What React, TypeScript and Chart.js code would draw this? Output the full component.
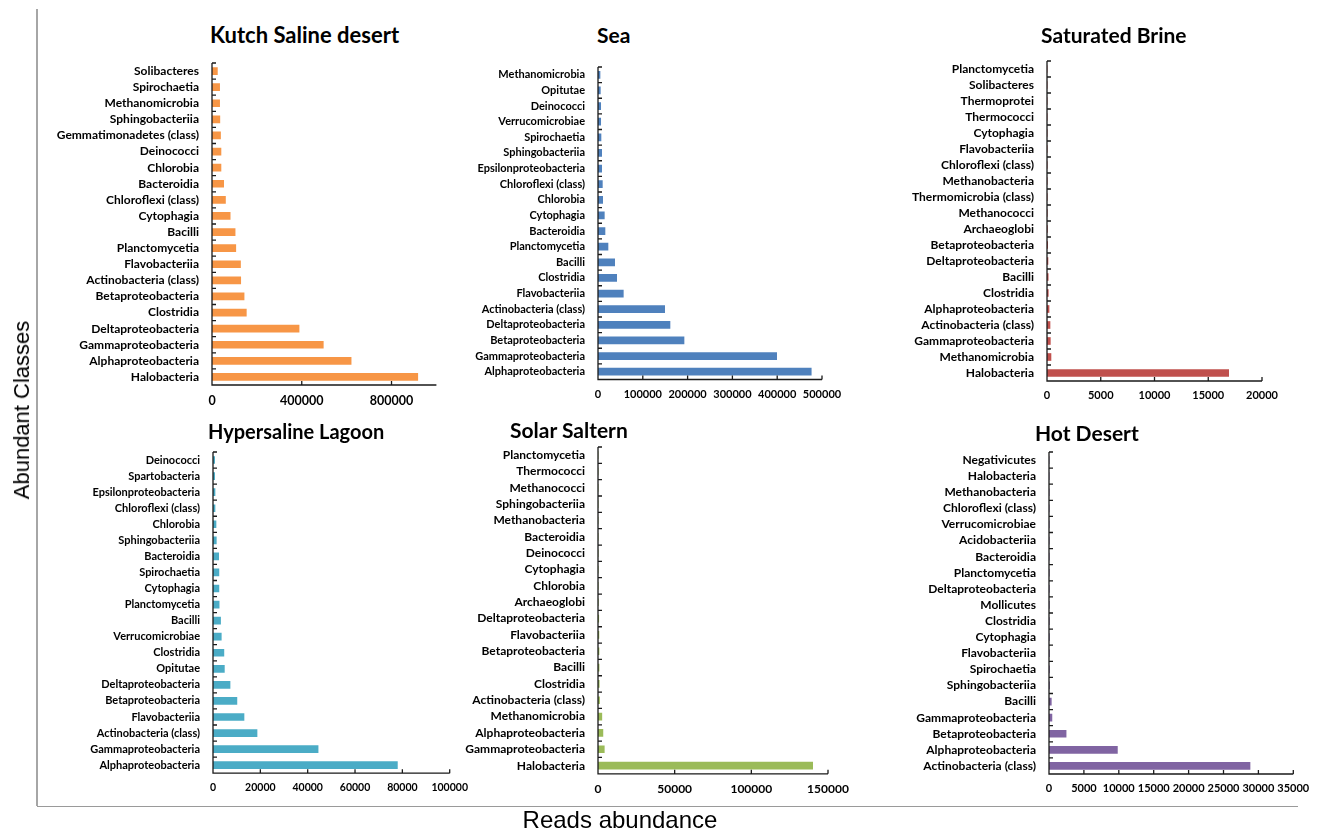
import React, { useEffect, useRef } from "react";
import { Chart, registerables } from "chart.js";

Chart.register(...registerables);

// ---- Kutch Saline desert ----
const kutchClasses = [
  "Solibacteres", "Spirochaetia", "Methanomicrobia", "Sphingobacteriia",
  "Gemmatimonadetes (class)", "Deinococci", "Chlorobia", "Bacteroidia",
  "Chloroflexi (class)", "Cytophagia", "Bacilli", "Planctomycetia",
  "Flavobacteriia", "Actinobacteria (class)", "Betaproteobacteria", "Clostridia",
  "Deltaproteobacteria", "Gammaproteobacteria", "Alphaproteobacteria", "Halobacteria",
];
const kutchReads = [
  24000, 34000, 34000, 35000, 38000, 40000, 40000, 52000, 60000, 81000,
  103000, 106000, 127000, 128000, 143000, 153000, 388000, 496000, 620000, 917000,
];
const kutchTicks = [0, 400000, 800000];
const kutchMax = 1000000;

// ---- Sea ----
const seaClasses = [
  "Methanomicrobia", "Opitutae", "Deinococci", "Verrucomicrobiae", "Spirochaetia",
  "Sphingobacteriia", "Epsilonproteobacteria", "Chloroflexi (class)", "Chlorobia",
  "Cytophagia", "Bacteroidia", "Planctomycetia", "Bacilli", "Clostridia",
  "Flavobacteriia", "Actinobacteria (class)", "Deltaproteobacteria",
  "Betaproteobacteria", "Gammaproteobacteria", "Alphaproteobacteria",
];
const seaReads = [
  4500, 5200, 6000, 6000, 6700, 8200, 8200, 9700, 10400, 14100,
  15600, 22300, 37200, 41700, 56500, 148800, 160700, 192000, 398800, 476000,
];
const seaTicks = [0, 100000, 200000, 300000, 400000, 500000];
const seaMax = 500000;

// ---- Saturated Brine ----
const brineClasses = [
  "Planctomycetia", "Solibacteres", "Thermoprotei", "Thermococci", "Cytophagia",
  "Flavobacteriia", "Chloroflexi (class)", "Methanobacteria", "Thermomicrobia (class)",
  "Methanococci", "Archaeoglobi", "Betaproteobacteria", "Deltaproteobacteria",
  "Bacilli", "Clostridia", "Alphaproteobacteria", "Actinobacteria (class)",
  "Gammaproteobacteria", "Methanomicrobia", "Halobacteria",
];
const brineReads = [
  5, 6, 7, 8, 9, 10, 12, 14, 16, 20,
  35, 60, 90, 110, 120, 190, 280, 310, 370, 16900,
];
const brineTicks = [0, 5000, 10000, 15000, 20000];
const brineMax = 20000;

// ---- Hypersaline Lagoon ----
const lagoonClasses = [
  "Deinococci", "Spartobacteria", "Epsilonproteobacteria", "Chloroflexi (class)",
  "Chlorobia", "Sphingobacteriia", "Bacteroidia", "Spirochaetia", "Cytophagia",
  "Planctomycetia", "Bacilli", "Verrucomicrobiae", "Clostridia", "Opitutae",
  "Deltaproteobacteria", "Betaproteobacteria", "Flavobacteriia",
  "Actinobacteria (class)", "Gammaproteobacteria", "Alphaproteobacteria",
];
const lagoonReads = [
  700, 700, 850, 850, 1270, 1400, 2400, 2500, 2500, 2600,
  3200, 3500, 4600, 4800, 7200, 10100, 13100, 18600, 44400, 77900,
];
const lagoonTicks = [0, 20000, 40000, 60000, 80000, 100000];
const lagoonMax = 100000;

// ---- Solar Saltern ----
const salternClasses = [
  "Planctomycetia", "Thermococci", "Methanococci", "Sphingobacteriia",
  "Methanobacteria", "Bacteroidia", "Deinococci", "Cytophagia", "Chlorobia",
  "Archaeoglobi", "Deltaproteobacteria", "Flavobacteriia", "Betaproteobacteria",
  "Bacilli", "Clostridia", "Actinobacteria (class)", "Methanomicrobia",
  "Alphaproteobacteria", "Gammaproteobacteria", "Halobacteria",
];
const salternReads = [
  20, 25, 30, 35, 40, 50, 60, 70, 90, 150,
  500, 600, 650, 700, 800, 1000, 2500, 3200, 4100, 140000,
];
const salternTicks = [0, 50000, 100000, 150000];
const salternMax = 150000;

// ---- Hot Desert ----
const desertClasses = [
  "Negativicutes", "Halobacteria", "Methanobacteria", "Chloroflexi (class)",
  "Verrucomicrobiae", "Acidobacteriia", "Bacteroidia", "Planctomycetia",
  "Deltaproteobacteria", "Mollicutes", "Clostridia", "Cytophagia", "Flavobacteriia",
  "Spirochaetia", "Sphingobacteriia", "Bacilli", "Gammaproteobacteria",
  "Betaproteobacteria", "Alphaproteobacteria", "Actinobacteria (class)",
];
const desertReads = [
  10, 12, 14, 16, 18, 20, 24, 28, 32, 36,
  40, 45, 50, 55, 60, 330, 420, 2450, 9800, 28800,
];
const desertTicks = [0, 5000, 10000, 15000, 20000, 25000, 30000, 35000];
const desertMax = 35000;

const FONT = "Lato, 'Open Sans', sans-serif";
const LABEL_W = 190;
const PAD_TOP = 10;
const X_AXIS_H = 34;

type PanelSpec = {
  title: string;
  classes: string[];
  reads: number[];
  ticks: number[];
  max: number;
  color: string;
  axisX: number;
  axisEnd: number;
  top: number;
  bottom: number;
  labelSize: number;
  tickSize: number;
  titleX: number;
  titleY: number;
  titleSize: number;
};

const panels: PanelSpec[] = [
  {
    title: "Kutch Saline desert", classes: kutchClasses, reads: kutchReads,
    ticks: kutchTicks, max: kutchMax, color: "#F79646",
    axisX: 212.3, axisEnd: 436.7, top: 63, bottom: 385,
    labelSize: 12, tickSize: 12.5, titleX: 210, titleY: 36, titleSize: 22,
  },
  {
    title: "Sea", classes: seaClasses, reads: seaReads,
    ticks: seaTicks, max: seaMax, color: "#4F81BD",
    axisX: 597.7, axisEnd: 821.7, top: 67, bottom: 379.5,
    labelSize: 11, tickSize: 11, titleX: 597, titleY: 36, titleSize: 21,
  },
  {
    title: "Saturated Brine", classes: brineClasses, reads: brineReads,
    ticks: brineTicks, max: brineMax, color: "#C0504D",
    axisX: 1046.7, axisEnd: 1261.7, top: 61, bottom: 381,
    labelSize: 12, tickSize: 11, titleX: 1041, titleY: 36, titleSize: 21,
  },
  {
    title: "Hypersaline Lagoon", classes: lagoonClasses, reads: lagoonReads,
    ticks: lagoonTicks, max: lagoonMax, color: "#4BACC6",
    axisX: 213.3, axisEnd: 450, top: 452.3, bottom: 773.5,
    labelSize: 11, tickSize: 10.5, titleX: 208, titleY: 432, titleSize: 20,
  },
  {
    title: "Solar Saltern", classes: salternClasses, reads: salternReads,
    ticks: salternTicks, max: salternMax, color: "#9BBB59",
    axisX: 597.7, axisEnd: 827.7, top: 446.7, bottom: 773.5,
    labelSize: 12, tickSize: 12, titleX: 510, titleY: 431, titleSize: 21,
  },
  {
    title: "Hot Desert", classes: desertClasses, reads: desertReads,
    ticks: desertTicks, max: desertMax, color: "#8064A2",
    axisX: 1049, axisEnd: 1293.3, top: 452.3, bottom: 774.3,
    labelSize: 12, tickSize: 11, titleX: 1035, titleY: 434, titleSize: 21,
  },
];

// Axis lines with inward tick marks, drawn from the chart's own scales.
const axisFrame = {
  id: "axisFrame",
  afterDatasetsDraw(chart: any) {
    const { ctx } = chart;
    const x = chart.scales.x;
    const y = chart.scales.y;
    const n = chart.data.labels.length;
    const band = y.getPixelForValue(1) - y.getPixelForValue(0);
    ctx.save();
    ctx.strokeStyle = "#1a1a1a";
    ctx.lineWidth = 1.3;
    ctx.beginPath();
    ctx.moveTo(x.left, y.top);
    ctx.lineTo(x.left, y.bottom);
    ctx.lineTo(x.right, y.bottom);
    for (let i = 0; i <= n; i++) {
      const py = y.getPixelForValue(i) - band / 2;
      ctx.moveTo(x.left, py);
      ctx.lineTo(x.left + 4, py);
    }
    x.ticks.forEach((t: any) => {
      const px = x.getPixelForValue(t.value);
      ctx.moveTo(px, y.bottom);
      ctx.lineTo(px, y.bottom - 4);
    });
    ctx.stroke();
    ctx.restore();
  },
};

function BarPanel({ spec }: { spec: PanelSpec }) {
  const ref = useRef<HTMLCanvasElement | null>(null);
  const span = spec.axisEnd - spec.axisX;
  const left = spec.axisX - LABEL_W;
  const canvasTop = spec.top - PAD_TOP;
  const width = Math.ceil(LABEL_W + span + 40);
  const padRight = width - LABEL_W - span;
  const height = Math.ceil(PAD_TOP + (spec.bottom - spec.top) + X_AXIS_H);
  const padBottom = height - PAD_TOP - (spec.bottom - spec.top) - X_AXIS_H;

  useEffect(() => {
    if (!ref.current) return;
    const chart = new Chart(ref.current, {
      type: "bar",
      data: {
        labels: spec.classes,
        datasets: [
          {
            data: spec.reads,
            backgroundColor: spec.color,
            borderWidth: 0,
            barThickness: 7,
          },
        ],
      },
      plugins: [axisFrame],
      options: {
        indexAxis: "y",
        responsive: false,
        animation: false,
        layout: {
          padding: { top: PAD_TOP, right: padRight, bottom: padBottom, left: 0 },
        },
        plugins: {
          legend: { display: false },
          tooltip: { enabled: false },
        },
        scales: {
          x: {
            type: "linear",
            min: 0,
            max: spec.max,
            afterBuildTicks: (scale: any) => {
              scale.ticks = spec.ticks.map((v) => ({ value: v }));
            },
            afterFit: (scale: any) => {
              scale.height = X_AXIS_H;
              scale.paddingLeft = 0;
              scale.paddingRight = 0;
            },
            grid: { display: false, drawTicks: false },
            border: { display: false },
            ticks: {
              autoSkip: false,
              maxRotation: 0,
              minRotation: 0,
              padding: 8,
              color: "#000",
              font: { family: FONT, weight: "bold", size: spec.tickSize },
              callback: (v: any) => String(v),
            },
          },
          y: {
            type: "category",
            afterFit: (scale: any) => {
              scale.width = LABEL_W;
              scale.paddingTop = 0;
              scale.paddingBottom = 0;
            },
            grid: { display: false, drawTicks: false },
            border: { display: false },
            ticks: {
              autoSkip: false,
              padding: 13,
              color: "#000",
              font: { family: FONT, weight: "bold", size: spec.labelSize },
            },
          },
        },
      } as any,
    });
    return () => chart.destroy();
  }, [spec]);

  return (
    <>
      <canvas
        ref={ref}
        width={width}
        height={height}
        style={{ position: "absolute", left, top: canvasTop, width, height }}
      />
      <div
        style={{
          position: "absolute",
          left: spec.titleX,
          top: spec.titleY - spec.titleSize * 0.55,
          fontFamily: FONT,
          fontWeight: 700,
          fontSize: spec.titleSize,
          lineHeight: 1,
          whiteSpace: "nowrap",
          color: "#000",
        }}
      >
        {spec.title}
      </div>
    </>
  );
}

export default function App() {
  return (
    <div
      style={{
        position: "absolute",
        left: 0,
        top: 0,
        width: 1320,
        height: 832,
        background: "#fff",
        overflow: "hidden",
      }}
    >
      {/* outer frame */}
      <div style={{ position: "absolute", left: 36, top: 9, width: 1.8, height: 797, background: "#a6a6a6" }} />
      <div style={{ position: "absolute", left: 37, top: 805.5, width: 1261, height: 1.5, background: "#9a9a9a" }} />

      {panels.map((p) => (
        <BarPanel key={p.title} spec={p} />
      ))}

      <div
        style={{
          position: "absolute",
          left: 22,
          top: 410,
          transform: "translate(-50%, -50%) rotate(-90deg)",
          fontFamily: "'Liberation Sans', Arial, sans-serif",
          fontSize: 22,
          whiteSpace: "nowrap",
          color: "#000",
        }}
      >
        Abundant Classes
      </div>
      <div
        style={{
          position: "absolute",
          left: 620,
          top: 820,
          transform: "translate(-50%, -50%)",
          fontFamily: "'Liberation Sans', Arial, sans-serif",
          fontSize: 24,
          whiteSpace: "nowrap",
          color: "#000",
        }}
      >
        Reads abundance
      </div>
    </div>
  );
}
